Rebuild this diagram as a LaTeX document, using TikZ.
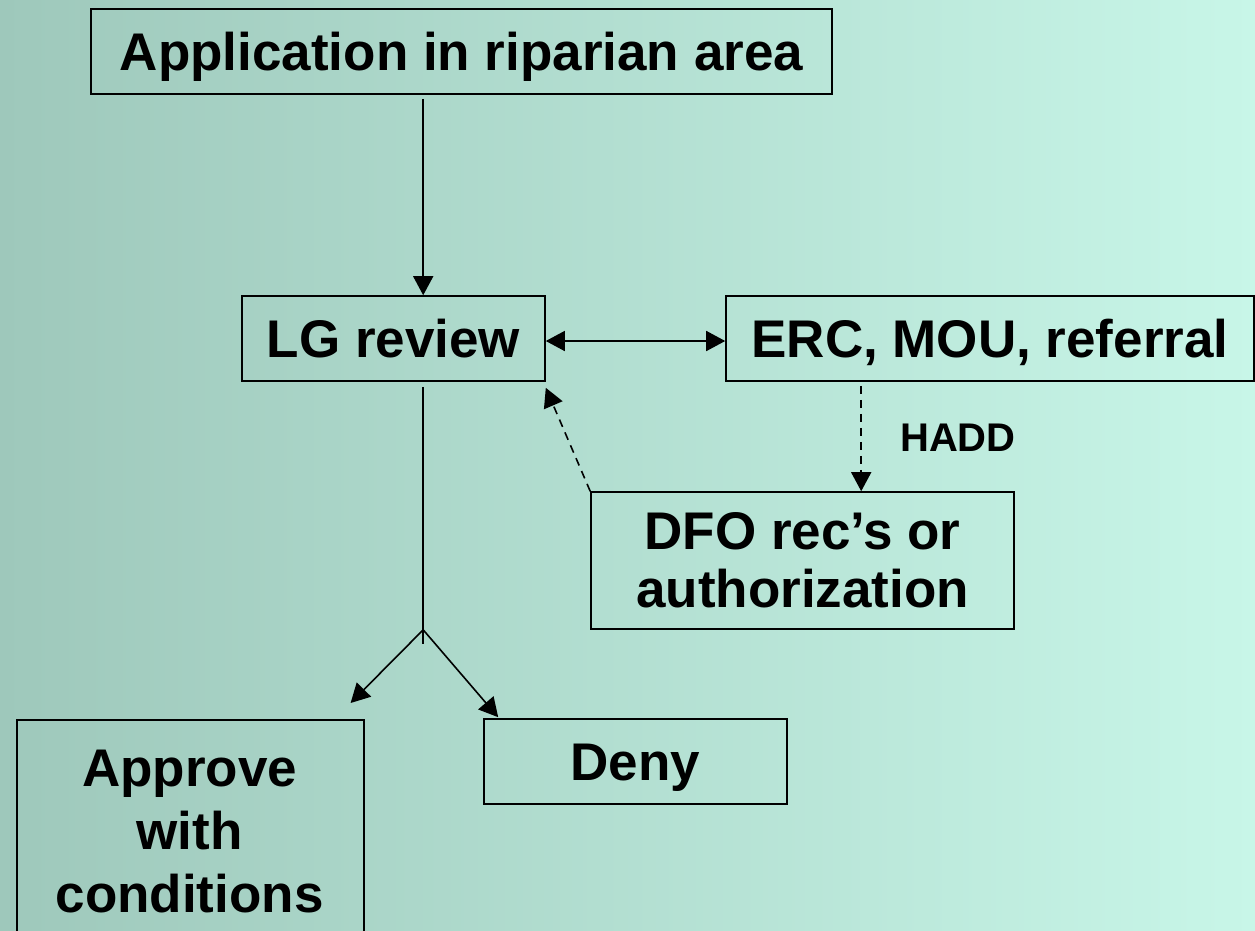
\documentclass[tikz,border=0pt]{standalone}
\usepackage{fontspec}
\setmainfont{Liberation Sans}
\usetikzlibrary{arrows.meta,calc}
\definecolor{bgleft}{RGB}{158,200,187}
\definecolor{bgright}{RGB}{200,246,232}
\tikzset{
  box/.style={draw=black, line width=1.6pt, inner sep=0pt, font=\bfseries\fontsize{53}{60}\selectfont, align=center},
  onebox/.style={box, text height=38pt, text depth=0pt},
  arr/.style={line width=1.6pt, -{Triangle[length=19pt,width=20pt]}},
  darr/.style={line width=1.6pt, {Triangle[length=19pt,width=20pt]}-{Triangle[length=19pt,width=20pt]}},
  dasharr/.style={line width=1.6pt, dash pattern=on 8pt off 6pt, -{Triangle[length=19pt,width=20pt]}},
  plain/.style={line width=1.6pt},
  lbl/.style={font=\bfseries\fontsize{40}{48}\selectfont, inner sep=0pt}
}
\begin{document}
\begin{tikzpicture}[x=1pt,y=-1pt]
\useasboundingbox (0,0) rectangle (1255,930);
\clip (0,0) rectangle (1255,930);
\shade[left color=bgleft, right color=bgright] (0,0) rectangle (1255,930);

\node[onebox, minimum width=741pt, minimum height=85pt] (app) at (461.5,51.5) {Application in riparian area};
\node[onebox, minimum width=303pt, minimum height=85pt] (lg) at (393.5,338.5) {LG review};
\node[onebox, minimum width=528pt, minimum height=85pt] (erc) at (990,338.5) {ERC, MOU, referral};
\node[box, minimum width=423pt, minimum height=137pt, font=\bfseries\fontsize{53}{58}\selectfont] (dfo) at (802.5,560.5) {DFO rec’s or\\authorization};
\node[onebox, minimum width=303pt, minimum height=85pt] (deny) at (635.5,761.5) {Deny};
\node[box, minimum width=347pt, minimum height=300pt, anchor=north west] (approve) at (16,719) {};
\node[font=\bfseries\fontsize{53}{63}\selectfont, align=center, inner sep=0pt] (approvetxt) at (189.5,832) {Approve\\with\\conditions};

\node[lbl] (hadd) at (958,438) {HADD};

\coordinate (branch) at ($(lg.south west)+(182pt,-248pt)$);
\coordinate (stemend) at ($(branch)+(0,-14pt)$);
\coordinate (apptip) at ($(approve.north east)+(-14pt,16pt)$);
\coordinate (denytip) at ($(deny.north west)+(15pt,1pt)$);

\draw[arr] ([xshift=333pt,yshift=-4pt]app.south west) -- ([xshift=182pt]lg.north west);
\draw[darr] ([yshift=-2.5pt]lg.east) -- ([yshift=-2.5pt]erc.west);
\draw[plain] ([xshift=182pt,yshift=-5pt]lg.south west) -- (stemend);
\draw[arr] (branch) -- (apptip);
\draw[arr] (branch) -- (denytip);
\draw[dasharr] ([xshift=136pt,yshift=-4pt]erc.south west) -- ([xshift=271pt]dfo.north west);
\draw[dasharr] (dfo.north west) -- ([yshift=-6pt]lg.south east);
\end{tikzpicture}
\end{document}
